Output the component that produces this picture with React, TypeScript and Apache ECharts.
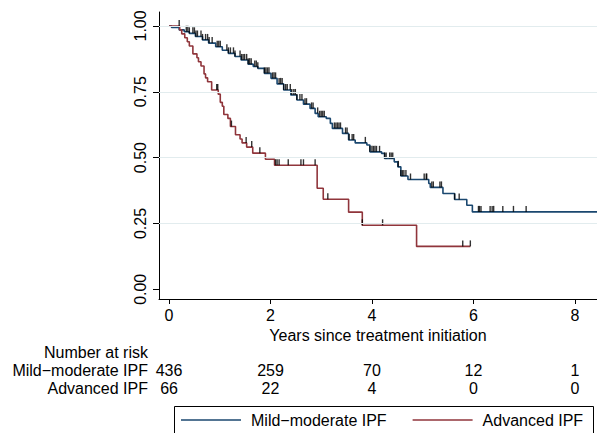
import React, { useEffect, useRef } from "react";
import * as echarts from "echarts";

const seriesNames = ["Mild\u2212moderate IPF", "Advanced IPF"];
const xTicks = [0, 2, 4, 6, 8];
const yTicks = [0, 0.25, 0.5, 0.75, 1];
const gridValues = [0.25, 0.5, 0.75, 1];
const riskTitle = "Number at risk";
const riskMild = [436, 259, 70, 12, 1];
const riskAdv = [66, 22, 4, 0, 0];
const xTitle = "Years since treatment initiation";

const mildTimes = [0, 0.05, 0.2, 0.3, 0.4, 0.52, 0.66, 0.78, 0.92, 1.05, 1.17, 1.3, 1.42, 1.56, 1.66, 1.75, 1.88, 2.01, 2.13, 2.26, 2.4, 2.52, 2.65, 2.78, 2.88, 2.94, 3.1, 3.18, 3.22, 3.42, 3.54, 3.67, 3.9, 3.96, 4.19, 4.25, 4.44, 4.51, 4.57, 4.71, 5.12, 5.15, 5.4, 5.63, 5.87, 5.98, 8.6];
const mildSurv = [1.0, 0.994, 0.985, 0.978, 0.972, 0.96, 0.947, 0.935, 0.921, 0.908, 0.896, 0.884, 0.871, 0.855, 0.846, 0.839, 0.82, 0.801, 0.78, 0.757, 0.738, 0.719, 0.703, 0.687, 0.668, 0.655, 0.649, 0.63, 0.611, 0.592, 0.567, 0.556, 0.548, 0.522, 0.516, 0.497, 0.484, 0.465, 0.43, 0.417, 0.402, 0.387, 0.364, 0.341, 0.319, 0.294, 0.294];

const advTimes = [0, 0.21, 0.25, 0.31, 0.36, 0.4, 0.47, 0.55, 0.58, 0.63, 0.69, 0.72, 0.76, 0.84, 0.97, 1.01, 1.05, 1.08, 1.16, 1.21, 1.31, 1.4, 1.44, 1.53, 1.65, 1.9, 2.08, 2.92, 3.04, 3.54, 3.81, 4.88, 5.94];
const advSurv = [1.0, 0.985, 0.97, 0.955, 0.94, 0.924, 0.894, 0.879, 0.864, 0.848, 0.818, 0.803, 0.788, 0.757, 0.741, 0.71, 0.695, 0.664, 0.649, 0.618, 0.587, 0.571, 0.556, 0.54, 0.517, 0.494, 0.471, 0.384, 0.342, 0.293, 0.243, 0.163, 0.163];

const mildCensor = [0.34, 0.37, 0.4, 0.47, 0.5, 0.53, 0.56, 0.63, 0.66, 0.72, 0.76, 0.79, 0.85, 0.95, 0.98, 1.01, 1.14, 1.17, 1.21, 1.27, 1.3, 1.4, 1.43, 1.46, 1.49, 1.53, 1.56, 1.59, 1.62, 1.69, 1.72, 1.75, 1.88, 1.91, 1.94, 1.97, 2.04, 2.07, 2.1, 2.17, 2.2, 2.23, 2.26, 2.3, 2.33, 2.39, 2.42, 2.46, 2.49, 2.52, 2.58, 2.62, 2.68, 2.71, 2.81, 2.84, 2.93, 2.97, 3.0, 3.03, 3.06, 3.26, 3.29, 3.32, 3.35, 3.38, 3.48, 3.51, 3.55, 3.61, 3.64, 3.87, 3.96, 4.0, 4.03, 4.06, 4.09, 4.15, 4.25, 4.28, 4.35, 4.38, 4.41, 4.52, 4.57, 4.6, 4.63, 4.67, 4.76, 5.03, 5.07, 5.08, 5.18, 5.21, 5.34, 5.37, 5.63, 5.72, 6.1, 6.12, 6.15, 6.33, 6.37, 6.4, 6.58, 6.79, 7.04];
const advCensor = [0.2, 0.94, 0.96, 1.23, 1.52, 1.63, 1.79, 2.1, 2.13, 2.17, 2.35, 2.6, 2.65, 2.88, 3.13, 3.81, 4.21, 5.79, 5.94];

const BLUE = "#1a476f";
const RED = "#90353b";
const FONT = "'Liberation Sans', Arial, Helvetica, sans-serif";

function stepAt(times: number[], surv: number[], t: number): number {
  let v = surv[0];
  for (let i = 0; i < times.length; i++) {
    if (times[i] <= t + 1e-9) v = surv[i];
  }
  return v;
}

export default function App() {
  const ref = useRef<HTMLDivElement>(null);
  useEffect(() => {
    if (!ref.current) return;
    const chart = echarts.init(ref.current, undefined, { renderer: "svg" });
    const tickSymbol = {
      type: "scatter",
      symbol: "rect",
      symbolSize: [1.4, 6],
      symbolOffset: [0, -3],
      itemStyle: { color: "#000" },
      silent: true,
      z: 4,
    };
    chart.setOption({
      animation: false,
      grid: { left: 159, top: 12, width: 449, height: 287 },
      legend: {
        left: 181,
        top: 412,
        padding: 0,
        itemWidth: 60,
        itemHeight: 1.5,
        itemGap: 26,
        icon: "rect",
        data: seriesNames,
        textStyle: { fontSize: 16, color: "#000", fontFamily: FONT, padding: [0, 0, 0, 5] },
      },
      xAxis: {
        type: "value",
        min: -0.198,
        max: 8.437,
        axisLine: { onZero: false, lineStyle: { color: "#000", width: 1 } },
        axisTick: { customValues: xTicks, length: 5, lineStyle: { color: "#000" } },
        axisLabel: { customValues: xTicks, fontSize: 16, color: "#000", fontFamily: FONT, margin: 8 },
        splitLine: { show: false },
        name: xTitle,
        nameLocation: "middle",
        nameGap: 25,
        nameTextStyle: { fontSize: 16, color: "#000", fontFamily: FONT },
      },
      yAxis: {
        type: "value",
        min: -0.0368,
        max: 1.053,
        axisLine: { show: true, onZero: false, lineStyle: { color: "#000", width: 1 } },
        axisTick: { show: true, customValues: yTicks, length: 6, lineStyle: { color: "#000" } },
        axisLabel: {
          customValues: yTicks,
          rotate: 90,
          fontSize: 16,
          color: "#000",
          fontFamily: FONT,
          margin: 11,
          formatter: (v: number) => v.toFixed(2),
        },
        splitLine: { show: false },
      },
      series: [
        {
          type: "line",
          name: "grid",
          data: [],
          silent: true,
          z: 1,
          markLine: {
            silent: true,
            symbol: ["none", "none"],
            label: { show: false },
            lineStyle: { color: "#e2ecee", width: 1, type: "solid" },
            data: gridValues.map((v) => ({ yAxis: v })),
          },
        },
        {
          type: "line",
          name: seriesNames[0],
          step: "end",
          showSymbol: false,
          symbol: "none",
          color: BLUE,
          lineStyle: { color: BLUE, width: 1.6 },
          data: mildTimes.map((t, i) => [t, mildSurv[i]]),
          z: 3,
        },
        {
          type: "line",
          name: seriesNames[1],
          step: "end",
          showSymbol: false,
          symbol: "none",
          color: RED,
          lineStyle: { color: RED, width: 1.6 },
          data: advTimes.map((t, i) => [t, advSurv[i]]),
          z: 3,
        },
        { ...tickSymbol, name: "mildCensor", data: mildCensor.map((t) => [t, stepAt(mildTimes, mildSurv, t)]) },
        { ...tickSymbol, name: "advCensor", data: advCensor.map((t) => [t, stepAt(advTimes, advSurv, t)]) },
      ],
    });

    const px = xTicks.map((t) => chart.convertToPixel({ xAxisIndex: 0 }, t) as number);
    const labelRight = 148;
    const txt = (text: string, x: number, y: number, align: string) => ({
      type: "text",
      x,
      y,
      silent: true,
      style: {
        text,
        fill: "#000",
        fontSize: 16,
        fontFamily: FONT,
        align,
        textAlign: align,
        verticalAlign: "middle",
        textVerticalAlign: "middle",
      },
    });
    const graphics: any[] = [
      txt(riskTitle, labelRight, 352, "right"),
      txt(seriesNames[0], labelRight, 370, "right"),
      txt(seriesNames[1], labelRight, 388, "right"),
    ];
    xTicks.forEach((_, i) => {
      graphics.push(txt(String(riskMild[i]), px[i], 370, "center"));
      graphics.push(txt(String(riskAdv[i]), px[i], 388, "center"));
    });
    graphics.push({
      type: "rect",
      silent: true,
      shape: { x: 174.5, y: 406.5, width: 419, height: 40 },
      style: { fill: "none", stroke: "#000", lineWidth: 1 },
    });
    chart.setOption({ graphic: graphics });

    return () => chart.dispose();
  }, []);
  return (
    <div
      ref={ref}
      style={{ position: "fixed", left: 0, top: 0, width: 597, height: 433, background: "#fff" }}
    />
  );
}
